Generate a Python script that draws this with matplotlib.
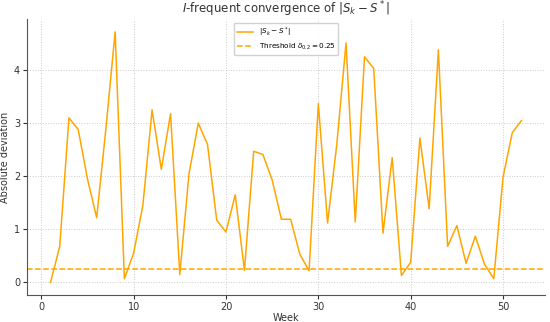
import numpy as np
import matplotlib
matplotlib.use("Agg")
import matplotlib.pyplot as plt

weeks = np.arange(1, 53)
deviation = [0.0, 0.68, 3.1, 2.88, 1.95, 1.22, 2.9, 4.72, 0.07, 0.55,
             1.45, 3.25, 2.13, 3.18, 0.15, 2.05, 3.0, 2.6, 1.17, 0.95,
             1.65, 0.23, 2.47, 2.41, 1.93, 1.19, 1.19, 0.53, 0.22, 3.37,
             1.12, 2.6, 4.51, 1.14, 4.25, 4.03, 0.93, 2.35, 0.13, 0.38,
             2.72, 1.39, 4.38, 0.68, 1.07, 0.36, 0.87, 0.34, 0.07, 1.98,
             2.82, 3.05]
threshold = 0.25

fig, ax = plt.subplots(figsize=(5.5, 3.22), dpi=100)
ax.plot(weeks, deviation, color='#FFA500', lw=1.1, label=r'$|S_k - S^*|$')
ax.axhline(threshold, color='#FFA500', ls='--', lw=1.1,
           label=r'Threshold $\delta_{0.2} = 0.25$')

ax.set_title(r'$I$-frequent convergence of $|S_k - S^*|$', fontsize=8.5, color='#333333', pad=1)
ax.set_xlabel('Week', fontsize=7, color='#333333', labelpad=1)
ax.set_ylabel('Absolute deviation', fontsize=7, color='#333333', labelpad=3)
ax.tick_params(labelsize=7, colors='#333333', length=3, pad=2)
ax.grid(True, ls=':', color='#cccccc', lw=0.7)
for s in ['top', 'right']:
    ax.spines[s].set_visible(False)
for s in ['left', 'bottom']:
    ax.spines[s].set_color('#555555')
ax.legend(loc='upper center', fontsize=5.2, framealpha=0.9, handlelength=2.2,
          borderpad=0.4, labelspacing=0.4)

fig.subplots_adjust(left=0.049, right=0.991, top=0.94, bottom=0.084)
fig.savefig('out.png', dpi=100)
